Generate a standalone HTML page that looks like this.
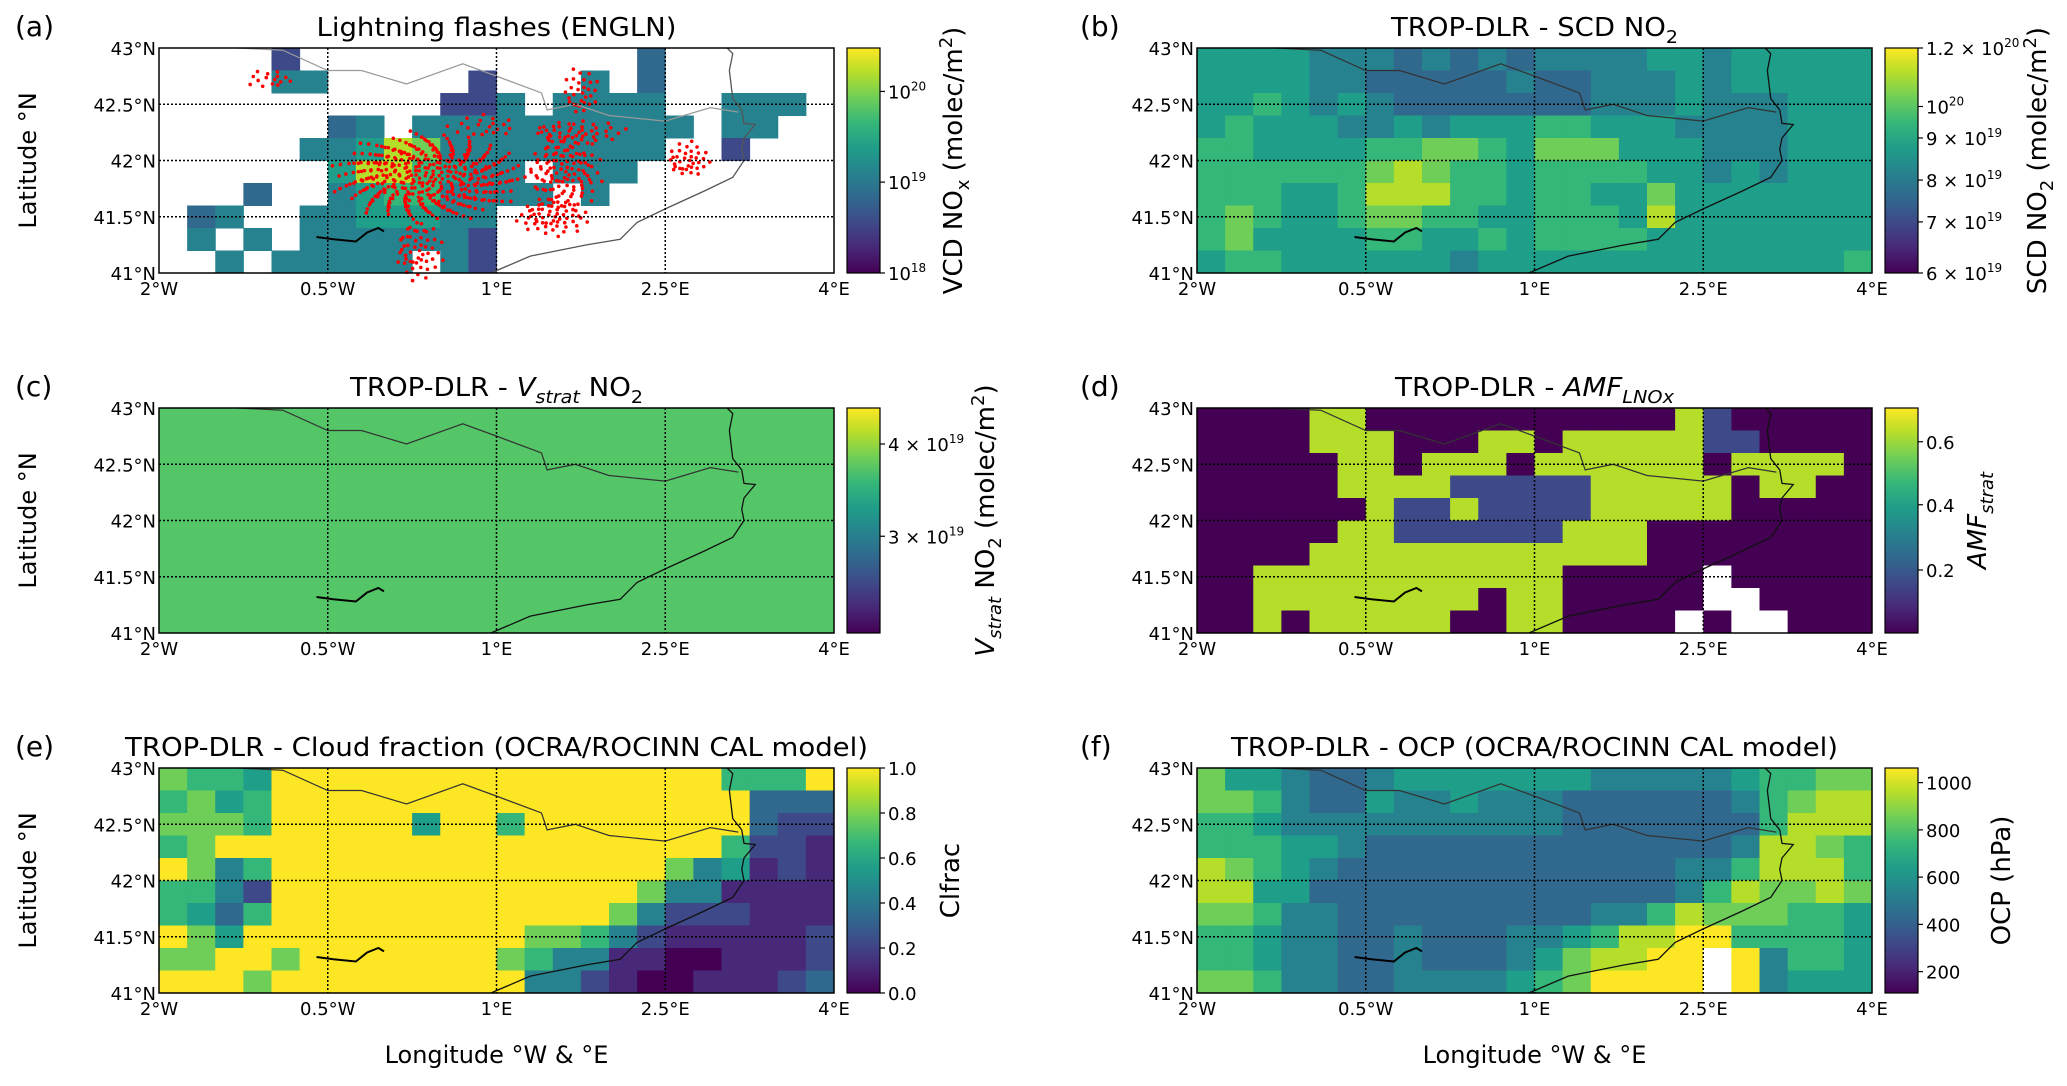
<!DOCTYPE html>
<html><head><meta charset="utf-8"><style>
html,body{margin:0;padding:0;background:#fff;}
svg{display:block;font-family:"DejaVu Sans","Liberation Sans",sans-serif;}
</style></head><body>
<svg id="fig" width="2067" height="1086" viewBox="0 0 2067 1086" xmlns="http://www.w3.org/2000/svg"></svg>
<script>
// ---------- data ----------
const lonTicks = [-2, -0.5, 1, 2.5, 4];
const lonLabels = ["2°W", "0.5°W", "1°E", "2.5°E", "4°E"];
const latTicks = [41, 41.5, 42, 42.5, 43];
const latLabels = ["41°N", "41.5°N", "42°N", "42.5°N", "43°N"];
// grids: 24 cols (lon -2..4), 10 rows (lat 43..41); digit = viridis level 0-9, '.' = missing
const gridA = [
"....2............3......",
"....44.....2...4.3......",
"..........224.4444..444.",
"......34.4444444444.44..",
".....4458744444444..2...",
"......5886544.444.......",
"...3..45664444.4........",
".34..4455544............",
".4.4.4444442............",
"..4.44444.42............"];
const gridB = [
"555544434343444455455555",
"555544333334334445455555",
"556545433333334445444555",
"565554454555665554444555",
"665555667765777555444555",
"666666787665666655454555",
"666556888665665575555555",
"676556776655666585555555",
"675555665565666655555555",
"566555555455555555555556"];
const gridC = Array(10).fill("........................");
const gridD = [
"000088000000000008200000",
"000088800088088888220000",
"000008808880888888088880",
"000008888222228888808800",
"000000822822228888800000",
"000008822222288800000000",
"000088888888888800000000",
"008888888888800000.00000",
"008888888808800000..0000",
"00808888800880000.0..000"];
const gridE = [
"766599999999999999996669",
"675699999999999999999333",
"777699999599699999999322",
"679999999999999999996221",
"974699999999999999745121",
"664299999999999997441111",
"653699999999999974222111",
"975999999999977642111112",
"779979999999764411001112",
"999799999999944210011123"];
const gridF = [
"755433455555554444456677",
"776433544544433333346788",
"665444444444433333336888",
"666554333333333333348876",
"876543333333333334468886",
"885533333333333334687787",
"776443333333334468777665",
"665443343334456889966665",
"665443343334578899.94665",
"776443344445679999.94555"];
// lightning flash clusters: lon, lat, rx, ry, count
const flashLon = [0.4, 1.6, 1.5, 0.3, 2.7, 1.75, -1.0, 1.7, 0.9];
const flashLat = [41.85, 41.9, 41.5, 41.2, 42.0, 42.6, 42.72, 42.25, 42.3];
const flashRx  = [0.75, 0.3, 0.3, 0.2, 0.18, 0.15, 0.2, 0.4, 0.3];
const flashRy  = [0.35, 0.3, 0.15, 0.25, 0.15, 0.2, 0.08, 0.1, 0.1];
const flashN   = [420, 110, 60, 50, 35, 30, 15, 45, 20];
// coastline / border / delta
const coastLon = [0.95,1.3,1.8,2.1,2.25,2.5,2.85,3.1,3.2,3.18,3.2,3.3,3.2,3.18,3.1,3.07,3.1,3.05];
const coastLat = [41.0,41.15,41.25,41.3,41.45,41.57,41.73,41.85,42.0,42.1,42.2,42.32,42.33,42.45,42.55,42.8,42.95,43.0];
const borderLon = [-1.3,-0.9,-0.5,-0.2,0.2,0.7,1.0,1.4,1.45,1.7,2.0,2.5,2.9,3.15];
const borderLat = [43.0,42.98,42.8,42.8,42.68,42.86,42.75,42.6,42.45,42.5,42.4,42.35,42.47,42.43];
const deltaLon = [-0.6,-0.45,-0.25,-0.15,-0.05,0.0];
const deltaLat = [41.32,41.3,41.28,41.36,41.4,41.37];

const viridis = ["#440154","#482878","#3e4989","#31688e","#26828e","#1f9e89","#35b779","#6ece58","#b5de2b","#fde725"];

const NS = "http://www.w3.org/2000/svg";
const svg = document.getElementById("fig");
function mk(tag, attrs, parent) {
  const e = document.createElementNS(NS, tag);
  for (const k in attrs) e.setAttribute(k, attrs[k]);
  (parent || svg).appendChild(e);
  return e;
}
const defs = mk("defs", {});
const grad = mk("linearGradient", {id: "vir", x1: 0, y1: 1, x2: 0, y2: 0}, defs);
viridis.forEach((c, i) => mk("stop", {offset: (i / 9), "stop-color": c}, grad));

const W = 675, H = 225;
const SUP = s => "<tspan dy='-8' font-size='12'>" + s + "</tspan>";
const panels = [
 {id:"a", x:159, y:48, grid:gridA, bg:"#fff", title:"Lightning flashes (ENGLN)", tl:360,
  cbTicks:[0,0.404,0.807], cbLabels:["10"+SUP("18"),"10"+SUP("19"),"10"+SUP("20")],
  cbTitle:"VCD NO<tspan dy='7' font-size='18'>x</tspan><tspan dy='-7'> (molec/m</tspan><tspan dy='-10' font-size='18'>2</tspan><tspan dy='10'>)</tspan>", cbx:953},
 {id:"b", x:1197, y:48, grid:gridB, bg:"#21918c", title:"TROP-DLR - SCD NO<tspan dy='7' font-size='18'>2</tspan>", tl:287,
  cbTicks:[0,0.227,0.413,0.6,0.74,1], cbLabels:["6 × 10"+SUP("19"),"7 × 10"+SUP("19"),"8 × 10"+SUP("19"),"9 × 10"+SUP("19"),"10"+SUP("20"),"1.2 × 10"+SUP("20")],
  cbTitle:"SCD NO<tspan dy='7' font-size='18'>2</tspan><tspan dy='-7'> (molec/m</tspan><tspan dy='-10' font-size='18'>2</tspan><tspan dy='10'>)</tspan>", cbx:2037},
 {id:"c", x:159, y:408, grid:gridC, bg:"#55c667", title:"TROP-DLR - <tspan font-style='italic'>V</tspan><tspan dy='7' font-size='18' font-style='italic'>strat</tspan><tspan dy='-7'> NO</tspan><tspan dy='7' font-size='18'>2</tspan>", tl:293,
  cbTicks:[0.43,0.84], cbLabels:["3 × 10"+SUP("19"),"4 × 10"+SUP("19")],
  cbTitle:"<tspan font-style='italic'>V</tspan><tspan dy='7' font-size='18' font-style='italic'>strat</tspan><tspan dy='-7'> NO</tspan><tspan dy='7' font-size='18'>2</tspan><tspan dy='-7'> (molec/m</tspan><tspan dy='-10' font-size='18'>2</tspan><tspan dy='10'>)</tspan>", cbx:985},
 {id:"d", x:1197, y:408, grid:gridD, bg:"#440154", title:"TROP-DLR - <tspan font-style='italic'>AMF</tspan><tspan dy='7' font-size='18' font-style='italic'>LNOx</tspan>", tl:279,
  cbTicks:[0.28,0.57,0.85], cbLabels:["0.2","0.4","0.6"],
  cbTitle:"<tspan font-style='italic'>AMF</tspan><tspan dy='7' font-size='18' font-style='italic'>strat</tspan>", cbx:1977},
 {id:"e", x:159, y:768, grid:gridE, bg:"#fde725", title:"TROP-DLR - Cloud fraction (OCRA/ROCINN CAL model)", tl:743,
  cbTicks:[0,0.2,0.4,0.6,0.8,1], cbLabels:["0.0","0.2","0.4","0.6","0.8","1.0"],
  cbTitle:"Clfrac", cbx:950},
 {id:"f", x:1197, y:768, grid:gridF, bg:"#21918c", title:"TROP-DLR - OCP (OCRA/ROCINN CAL model)", tl:607,
  cbTicks:[0.095,0.305,0.515,0.725,0.935], cbLabels:["200","400","600","800","1000"],
  cbTitle:"OCP (hPa)", cbx:2001}
];

panels.forEach(p => {
  const g = mk("g", {});
  
  
  const xs = lon => p.x + (lon + 2) / 6 * W;
  const ys = lat => p.y + (43 - lat) / 2 * H;
  const bg = mk("rect", {x:p.x, y:p.y, width:W, height:H, fill:p.bg}, g);
  
  
  const cols = 24, rows = 10;
  p.grid.forEach((row, r) => {
    for (let c = 0; c < cols; c++) {
      const ch = row[c];
      const lon0 = -2 + c * 6 / cols, lat0 = 43 - r * 2 / rows;
      const x0 = xs(lon0), y0 = ys(lat0), x1 = xs(lon0 + 6 / cols), y1 = ys(lat0 - 2 / rows);
      if (ch === '.' && p.id !== 'd' && p.id !== 'f') continue;
      const fill = ch === '.' ? "#ffffff" : viridis[+ch];
      const cell = mk("rect", {x:x0, y:y0, width:x1 - x0 + 0.5, height:y1 - y0 + 0.5, fill:fill}, g);
      
      
    }
  });
  if (p.id === 'a') {
    const fg = mk("g", {fill:"#ff0000"}, g);
    
    
    flashLon.forEach((lo, i) => {
      for (let k = 0; k < flashN[i]; k++) {
        const a = k * 2.39996, rr = Math.sqrt((k + 0.5) / flashN[i]) * (0.8 + 0.4 * ((k * 7) % 5) / 4);
        const lon = lo + flashRx[i] * rr * Math.cos(a);
        const lat = flashLat[i] + flashRy[i] * rr * Math.sin(a);
        const d = mk("circle", {cx:xs(lon), cy:ys(lat), r:1.8}, fg);
        
        
      }
    });
  }
  const poly = (lons, lats, col, w, name) => {
    const pts = lons.map((lo, i) => xs(lo) + "," + ys(lats[i])).join(" ");
    const l = mk("polyline", {points:pts, fill:"none", stroke:col, "stroke-width":w}, g);
    
    
  };
  poly(borderLon, borderLat, p.id === 'a' ? "#999" : "#333", 1.2, "border-line");
  poly(coastLon, coastLat, p.id === 'a' ? "#555" : "#111", 1.3, "coastline");
  poly(deltaLon, deltaLat, "#000", 2, "river-delta");
  [-0.5, 1, 2.5].forEach(lo => {
    const l = mk("line", {x1:xs(lo), x2:xs(lo), y1:p.y, y2:p.y + H, stroke:"#000", "stroke-width":1.5, "stroke-dasharray":"2,2"}, g);
    
    
  });
  [41.5, 42, 42.5].forEach(la => {
    const l = mk("line", {x1:p.x, x2:p.x + W, y1:ys(la), y2:ys(la), stroke:"#000", "stroke-width":1.5, "stroke-dasharray":"2,2"}, g);
    
    
  });
  const fr = mk("rect", {x:p.x, y:p.y, width:W, height:H, fill:"none", stroke:"#000", "stroke-width":1.5}, g);
  
  
  lonTicks.forEach((lo, i) => {
    const t = mk("text", {x:xs(lo), y:p.y + H + 22, "font-size":18, "text-anchor":"middle"}, g);
    t.textContent = lonLabels[i];
    
    
  });
  latTicks.forEach((la, i) => {
    const t = mk("text", {x:p.x - 3, y:ys(la) + 7, "font-size":18, "text-anchor":"end"}, g);
    t.textContent = latLabels[i];
    
    
  });
  const tt = mk("text", {x:p.x + W / 2, y:p.y - 12, "font-size":26, "text-anchor":"middle", textLength:p.tl, lengthAdjust:"spacingAndGlyphs"}, g);
  tt.innerHTML = p.title;
  
  
  const pl = mk("text", {x:p.id.match(/[ace]/) ? 15 : 1080, y:p.y - 12, "font-size":28}, g);
  pl.textContent = "(" + p.id + ")";
  
  
  const cx = p.x + W + 13, cw = 33;
  const cb = mk("rect", {x:cx, y:p.y, width:cw, height:H, fill:"url(#vir)", stroke:"#000", "stroke-width":1.2}, g);
  
  
  p.cbTicks.forEach((f, i) => {
    const yy = p.y + H - f * H;
    mk("line", {x1:cx + cw, x2:cx + cw + 5, y1:yy, y2:yy, stroke:"#000", "stroke-width":1.2}, g);
    const t = mk("text", {x:cx + cw + 8, y:yy + 7, "font-size":18}, g);
    t.innerHTML = p.cbLabels[i];
    
    
  });
  const ct = mk("text", {x:p.cbx, y:p.y + H / 2, "font-size":26, "text-anchor":"middle", transform:"rotate(-90 " + p.cbx + " " + (p.y + H / 2) + ")", dy:9}, g);
  ct.innerHTML = p.cbTitle;
  
  
  if (p.x < 500) {
    const yl = mk("text", {x:28, y:p.y + H / 2, "font-size":24, "text-anchor":"middle", transform:"rotate(-90 28 " + (p.y + H / 2) + ")", dy:8}, g);
    yl.textContent = "Latitude °N";
    
    
  }
  if (p.id === 'e' || p.id === 'f') {
    const xl = mk("text", {x:p.x + W / 2, y:1063, "font-size":24, "text-anchor":"middle"}, g);
    xl.textContent = "Longitude °W & °E";
    
    
  }
});
</script>
</body></html>
